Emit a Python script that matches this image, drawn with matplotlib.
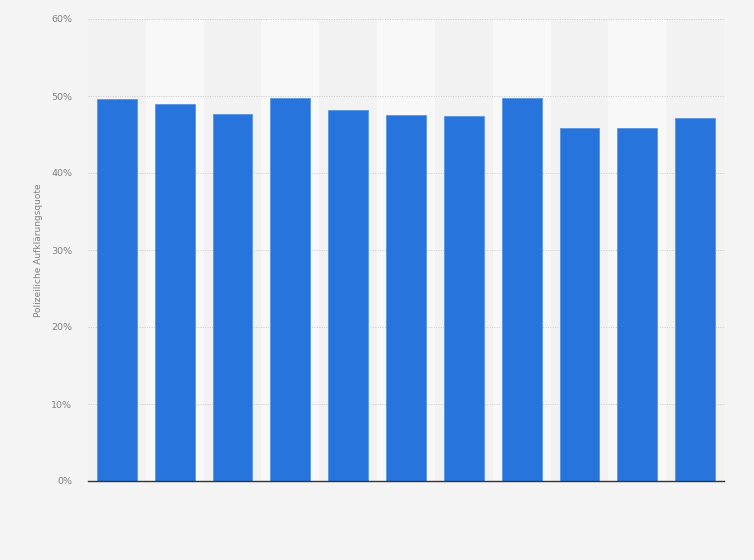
import matplotlib.pyplot as plt
from matplotlib.ticker import FuncFormatter

# values (percent)
categories = ["1", "2", "3", "4", "5", "6", "7", "8", "9", "10", "11"]
quote = [49.6, 49.0, 47.7, 49.8, 48.2, 47.5, 47.4, 49.8, 45.9, 45.8, 47.1]
y_ticks = [0, 10, 20, 30, 40, 50, 60]

fig = plt.figure(figsize=(7.54, 5.6), dpi=100)
fig.patch.set_facecolor("#f4f4f4")
ax = fig.add_axes([88 / 754, 1 - 481 / 560, 636 / 754, 462 / 560])
ax.set_facecolor("#f2f2f2")

x = list(range(len(categories)))

# alternating column bands
for i in x:
    if i % 2 == 1:
        ax.axvspan(i - 0.5, i + 0.5, color="#f8f8f8", zorder=0, lw=0)

ax.bar(x, quote, width=0.69, color="#2775dc", edgecolor="#5a95e6",
       linewidth=0.6, zorder=3)

ax.set_xlim(-0.5, len(categories) - 0.5)
ax.set_ylim(0, 60)
ax.set_yticks(y_ticks)
ax.yaxis.set_major_formatter(FuncFormatter(lambda v, p: f"{int(v)}%"))
ax.grid(axis="y", color="#c8c8c8", linestyle=(0, (1, 1.5)), linewidth=0.7, zorder=1)
ax.set_xticks(x)
ax.set_xticklabels([])
ax.tick_params(axis="x", length=0)
ax.tick_params(axis="y", length=0, labelsize=6.8, labelcolor="#808080", pad=11.5)

for s in ["top", "right", "left"]:
    ax.spines[s].set_visible(False)
ax.spines["bottom"].set_color("#333333")
ax.spines["bottom"].set_linewidth(1.0)
ax.spines["bottom"].set_zorder(4)

ax.set_ylabel("Polizeiliche Aufklärungsquote", fontsize=6.5, color="#808080", labelpad=6)

fig.savefig("out.png", dpi=100, facecolor=fig.get_facecolor())
